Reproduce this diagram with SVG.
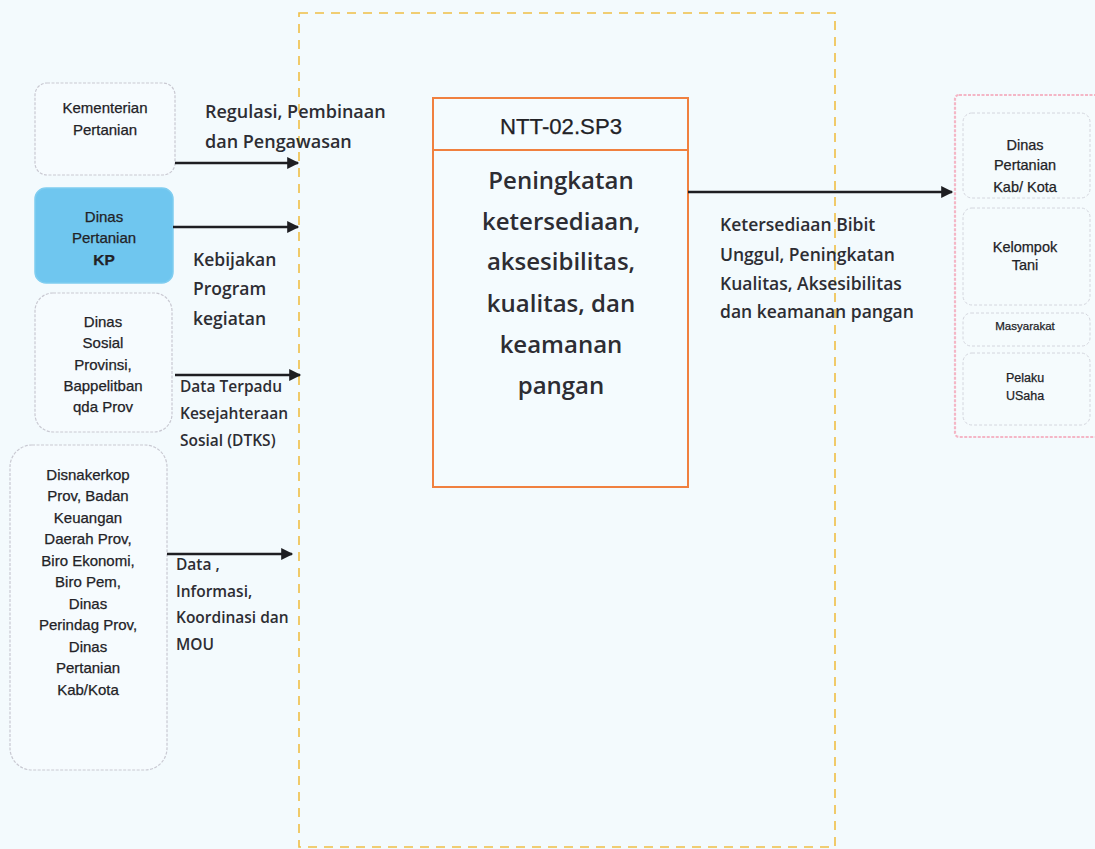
<svg xmlns="http://www.w3.org/2000/svg" width="1095" height="849" viewBox="0 0 1095 849">
  <style>
    .bg { fill: #f3fafd; }
    .scope { fill: none; stroke: #efbf45; stroke-width: 1.6; stroke-dasharray: 9 7; }
    .src { fill: #f6fbfe; stroke: #c9c9d2; stroke-width: 1.2; stroke-dasharray: 3 1.5; }
    .src-blue { fill: #6fc6ef; stroke: #7fcdf0; stroke-width: 1.5; }
    .proc { fill: #f4fbfe; stroke: #f0803f; stroke-width: 2; }
    .out-frame { fill: #f5fbfd; stroke: #f4b6c6; stroke-width: 2.2; stroke-dasharray: 3 1.5; }
    .out { fill: #f5fbfd; stroke: #d4d6de; stroke-width: 1; stroke-dasharray: 3 2; }
    .node { font-family: "Liberation Sans", Arial, sans-serif; fill: #222226; stroke: #222226; stroke-width: 0.25; text-anchor: middle; }
    .lbl { font-family: "Open Sans", "Liberation Sans", sans-serif; font-weight: 600; fill: #2d2d33; }
    .edge { stroke: #1e1e22; stroke-width: 2.4; fill: none; }
  </style>
  <defs>
    <marker id="arrow" viewBox="0 0 10 10" refX="9" refY="5" markerWidth="5.5" markerHeight="5" orient="auto" markerUnits="strokeWidth">
      <path d="M0,0 L10,5 L0,10 Z" fill="#1e1e22"/>
    </marker>
  </defs>

  <rect class="bg" x="0" y="0" width="1095" height="849"/>

  <!-- system boundary -->
  <rect class="scope" x="299" y="13" width="536" height="834"/>

  <!-- source: Kementerian Pertanian -->
  <g id="node-kementan">
    <rect class="src" x="35" y="83" width="140" height="92" rx="12"/>
    <text class="node" font-size="15" x="105" y="113">Kementerian</text>
    <text class="node" font-size="15" x="105" y="135">Pertanian</text>
  </g>

  <!-- source: Dinas Pertanian KP -->
  <g id="node-distan-kp">
    <rect class="src-blue" x="35" y="188" width="138" height="95" rx="11"/>
    <text class="node" font-size="15" x="104" y="222">Dinas</text>
    <text class="node" font-size="15" x="104" y="243">Pertanian</text>
    <text class="node" font-size="15.5" font-weight="bold" x="104" y="265">KP</text>
  </g>

  <!-- source: Dinas Sosial / Bappelitbangda -->
  <g id="node-dinsos">
    <rect class="src" x="35" y="293" width="137" height="139" rx="18"/>
    <text class="node" font-size="15" x="103" y="327">Dinas</text>
    <text class="node" font-size="15" x="103" y="348">Sosial</text>
    <text class="node" font-size="15" x="103" y="370">Provinsi,</text>
    <text class="node" font-size="15" x="103" y="391">Bappelitban</text>
    <text class="node" font-size="15" x="103" y="412">qda Prov</text>
  </g>

  <!-- source: provincial agencies -->
  <g id="node-opd">
    <rect class="src" x="10" y="445" width="157" height="325" rx="22"/>
    <text class="node" font-size="15" x="88" y="480">Disnakerkop</text>
    <text class="node" font-size="15" x="88" y="501">Prov, Badan</text>
    <text class="node" font-size="15" x="88" y="523">Keuangan</text>
    <text class="node" font-size="15" x="88" y="544">Daerah Prov,</text>
    <text class="node" font-size="15" x="88" y="566">Biro Ekonomi,</text>
    <text class="node" font-size="15" x="88" y="587">Biro Pem,</text>
    <text class="node" font-size="15" x="88" y="609">Dinas</text>
    <text class="node" font-size="15" x="88" y="630">Perindag Prov,</text>
    <text class="node" font-size="15" x="88" y="652">Dinas</text>
    <text class="node" font-size="15" x="88" y="673">Pertanian</text>
    <text class="node" font-size="15" x="88" y="695">Kab/Kota</text>
  </g>

  <!-- core process -->
  <g id="node-process">
    <rect class="proc" x="433" y="98" width="255" height="389"/>
    <line x1="433" y1="150" x2="688" y2="150" stroke="#f0803f" stroke-width="2"/>
    <text class="node" font-size="22" x="561" y="134" textLength="122" lengthAdjust="spacingAndGlyphs">NTT-02.SP3</text>
    <g class="lbl" font-size="24" text-anchor="middle">
      <text x="561" y="189">Peningkatan</text>
      <text x="561" y="230">ketersediaan,</text>
      <text x="561" y="270">aksesibilitas,</text>
      <text x="561" y="312">kualitas, dan</text>
      <text x="561" y="353">keamanan</text>
      <text x="561" y="394">pangan</text>
    </g>
  </g>

  <!-- recipients -->
  <g id="node-recipients">
    <rect class="out-frame" x="955" y="95" width="145" height="342" rx="4"/>
    <g id="node-distan-kab">
      <rect class="out" x="963" y="113" width="127" height="85" rx="9"/>
      <text class="node" font-size="14.5" x="1025" y="150">Dinas</text>
      <text class="node" font-size="14.5" x="1025" y="170">Pertanian</text>
      <text class="node" font-size="14.5" x="1025" y="192">Kab/ Kota</text>
    </g>
    <g id="node-poktan">
      <rect class="out" x="963" y="208" width="127" height="97" rx="9"/>
      <text class="node" font-size="14.5" x="1025" y="252">Kelompok</text>
      <text class="node" font-size="14.5" x="1025" y="270">Tani</text>
    </g>
    <g id="node-masyarakat">
      <rect class="out" x="963" y="313" width="127" height="33" rx="8"/>
      <text class="node" font-size="11.5" x="1025" y="330">Masyarakat</text>
    </g>
    <g id="node-pelaku">
      <rect class="out" x="963" y="353" width="127" height="72" rx="9"/>
      <text class="node" font-size="12.5" x="1025" y="382">Pelaku</text>
      <text class="node" font-size="12.5" x="1025" y="400">USaha</text>
    </g>
  </g>

  <!-- flows -->
  <g id="connectors">
    <line class="edge" x1="175" y1="163" x2="298" y2="163" marker-end="url(#arrow)"/>
    <line class="edge" x1="173" y1="227" x2="298" y2="227" marker-end="url(#arrow)"/>
    <line class="edge" x1="175" y1="375" x2="300" y2="375" marker-end="url(#arrow)"/>
    <line class="edge" x1="167" y1="554" x2="292" y2="554" marker-end="url(#arrow)"/>
    <line class="edge" x1="688" y1="192" x2="952" y2="192" marker-end="url(#arrow)"/>

    <g class="lbl" font-size="18">
      <text x="205" y="118">Regulasi, Pembinaan</text>
      <text x="205" y="148">dan Pengawasan</text>
    </g>
    <g class="lbl" font-size="17.5">
      <text x="193" y="266">Kebijakan</text>
      <text x="193" y="295">Program</text>
      <text x="193" y="325">kegiatan</text>
    </g>
    <g class="lbl" font-size="15.5">
      <text x="180" y="392">Data Terpadu</text>
      <text x="180" y="419">Kesejahteraan</text>
      <text x="180" y="446">Sosial (DTKS)</text>
    </g>
    <g class="lbl" font-size="15.5">
      <text x="176" y="570">Data ,</text>
      <text x="176" y="597">Informasi,</text>
      <text x="176" y="623">Koordinasi dan</text>
      <text x="176" y="650">MOU</text>
    </g>
    <g class="lbl" font-size="17.5">
      <text x="720" y="231">Ketersediaan Bibit</text>
      <text x="720" y="261">Unggul, Peningkatan</text>
      <text x="720" y="290">Kualitas, Aksesibilitas</text>
      <text x="720" y="318">dan keamanan pangan</text>
    </g>
  </g>
</svg>
